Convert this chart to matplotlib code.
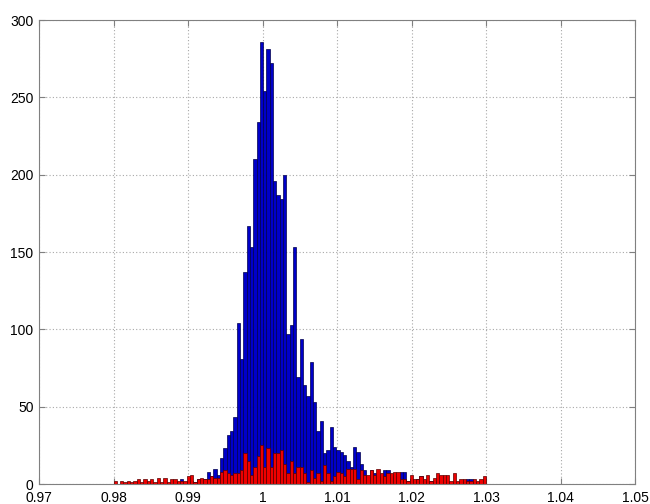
"""Overlaid histograms (MATLAB style): blue = all samples, red = subset."""
import matplotlib
matplotlib.use("Agg")
import matplotlib.pyplot as plt
import numpy as np

plt.rcParams["font.family"] = ["Liberation Sans", "DejaVu Sans"]

# Histogram bins: 112 equal bins between 0.98 and 1.03
BIN_LO, BIN_HI, N_BINS = 0.98, 1.03, 112

blue_counts = [
    0, 0, 0, 0, 0, 0, 0, 0, 0, 0,
    0, 0, 0, 0, 0, 0, 0, 0, 0, 1,
    3, 1, 2, 2, 1, 3, 2, 3, 8, 5,
    10, 6, 17, 23, 32, 34, 43, 104, 81, 137,
    167, 153, 210, 234, 286, 254, 281, 272, 196, 187,
    184, 200, 97, 103, 153, 69, 94, 64, 57, 79,
    53, 34, 41, 20, 22, 37, 24, 22, 21, 19,
    15, 11, 24, 21, 13, 9, 5, 9, 7, 4,
    5, 9, 9, 3, 5, 3, 8, 8, 2, 3,
    2, 3, 5, 2, 1, 2, 1, 2, 1, 1,
    1, 1, 0, 0, 1, 1, 3, 3, 1, 0,
    0, 0,
]

red_counts = [
    2, 0, 2, 1, 2, 1, 2, 3, 1, 3,
    2, 3, 1, 4, 1, 4, 1, 3, 3, 2,
    2, 2, 5, 6, 1, 3, 4, 3, 3, 5,
    4, 4, 8, 9, 7, 6, 7, 7, 9, 20,
    15, 6, 11, 18, 25, 11, 23, 11, 20, 20,
    22, 13, 7, 15, 7, 11, 11, 7, 1, 9,
    4, 7, 2, 12, 7, 2, 5, 8, 7, 5,
    10, 10, 10, 3, 9, 6, 6, 9, 6, 10,
    7, 5, 7, 7, 8, 8, 3, 3, 2, 6,
    3, 3, 5, 3, 6, 2, 4, 7, 6, 6,
    6, 2, 7, 2, 3, 3, 2, 2, 3, 2,
    3, 5,
]

x_ticks = [0.97, 0.98, 0.99, 1.00, 1.01, 1.02, 1.03, 1.04, 1.05]
x_tick_labels = ["0.97", "0.98", "0.99", "1", "1.01", "1.02", "1.03", "1.04", "1.05"]
y_ticks = [0, 50, 100, 150, 200, 250, 300]

edges = np.linspace(BIN_LO, BIN_HI, N_BINS + 1)
width = edges[1] - edges[0]

fig = plt.figure(figsize=(6.5, 5.04), dpi=100)
ax = fig.add_axes([39 / 650, 20 / 504, 596 / 650, 464 / 504])

ax.bar(edges[:-1], blue_counts, width, align="edge",
       color="#0000c8", edgecolor="#00004a", linewidth=0.5)
ax.bar(edges[:-1], red_counts, width, align="edge",
       color="#ee0000", edgecolor="#5a0000", linewidth=0.5)

ax.set_xlim(0.97, 1.05)
ax.set_ylim(0, 300)
ax.set_xticks(x_ticks)
ax.set_xticklabels(x_tick_labels)
ax.set_yticks(y_ticks)
ax.set_axisbelow(True)
ax.grid(True, color="#a8a8a8", linestyle=(0, (1, 2)), linewidth=0.8)
ax.tick_params(direction="in", length=4, color="#808080", labelsize=10,
               top=True, right=True)
ax.tick_params(axis="x", pad=5)
ax.tick_params(axis="y", pad=4)
for sp in ax.spines.values():
    sp.set_color("#808080")
    sp.set_linewidth(0.8)

fig.savefig("out.png", dpi=100)
